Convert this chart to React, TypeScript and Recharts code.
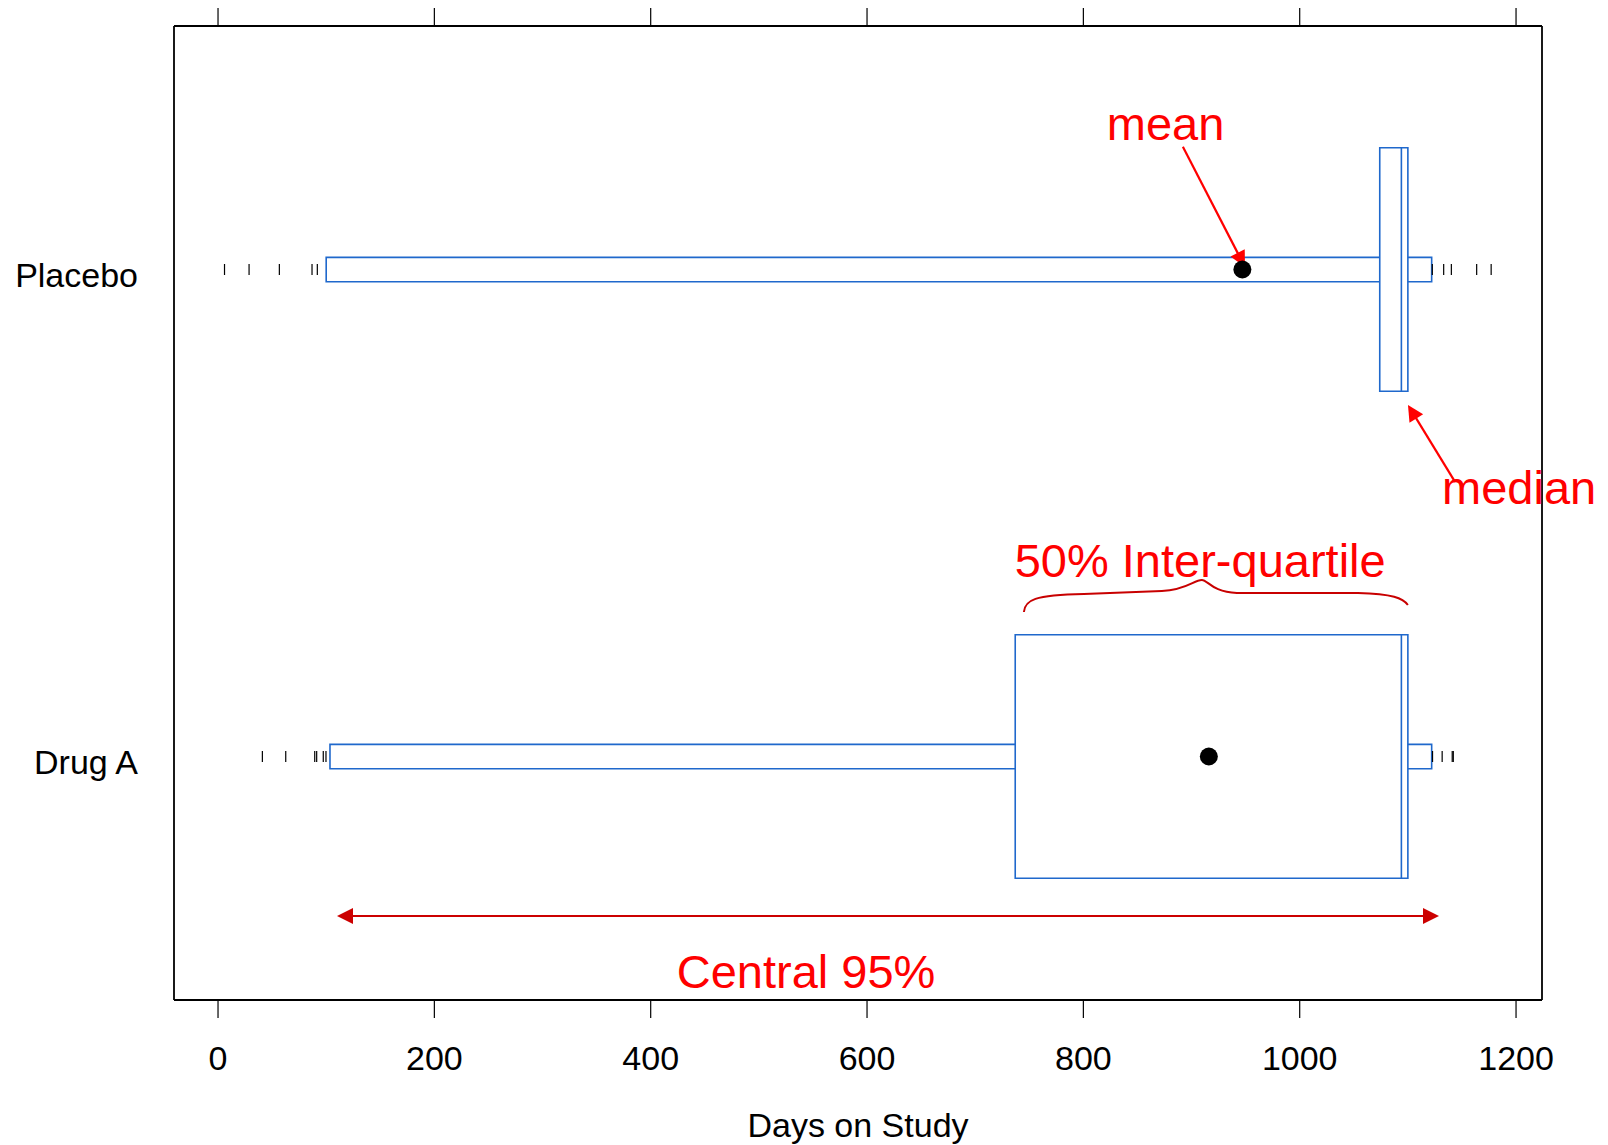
import {
  ComposedChart,
  XAxis,
  YAxis,
  Scatter,
  ReferenceArea,
  ReferenceLine,
  ReferenceDot,
} from 'recharts'

const groups = ['Drug A', 'Placebo']
const groupPos = [1, 2]
const lower95 = [103.5, 100]
const upper95 = [1122, 1122]
const q1 = [737, 1074]
const medians = [1094, 1094]
const q3 = [1100, 1100]
const means = [916, 947]
const drugTails = [41, 62.6, 89.4, 91.2, 97.3, 99.8, 1122.8, 1131.7, 1141, 1142]
const placeboTails = [6, 28.7, 56.7, 86.9, 91.8, 1122.6, 1133.1, 1140.2, 1163.6, 1177]

const xTicks = [0, 200, 400, 600, 800, 1000, 1200]
const xDomain = [-40.7, 1224]
const yDomain = [0.5, 2.5]

const noteText = ['mean', 'median', '50% Inter-quartile', 'Central 95%']
const noteX = [876, 1131.6, 908, 543.6]
const noteY = [2.266, 1.518, 1.369, 0.525]
const noteAnchor = ['middle', 'start', 'middle', 'middle']

// [tailX, tailY, tipX, tipY]
const meanArrow = [892, 2.252, 949.4, 2.005]
const medianArrow = [1143.6, 1.564, 1100.1, 1.722]
const centralArrow = [110, 0.6725, 1128.8, 0.6725]
// [left, right, y]
const braceSpan = [745, 1100, 1.3337]

const BLUE = '#1f68cc'
const BOX_HALF = 0.25
const WHISKER_HALF = 0.025
const TOP_TICK = 0.037 // top tick length, in y units (~18px)

const meanPts = groupPos.map((y, i) => ({ x: means[i], y }))
const tailPts = [
  ...drugTails.map((x) => ({ x, y: groupPos[0] })),
  ...placeboTails.map((x) => ({ x, y: groupPos[1] })),
]

function head(x: number, y: number, fx: number, fy: number, len: number, half: number, color: string) {
  const a = Math.atan2(y - fy, x - fx)
  const bx = x - len * Math.cos(a)
  const by = y - len * Math.sin(a)
  const px = -Math.sin(a) * half
  const py = Math.cos(a) * half
  return <polygon points={`${x},${y} ${bx + px},${by + py} ${bx - px},${by - py}`} fill={color} />
}

const arrowShape = (color: string, both: boolean) => (p: any) => {
  const { x1, y1, x2, y2 } = p
  const len = 16
  const a = Math.atan2(y2 - y1, x2 - x1)
  const ex = x2 - (len - 2) * Math.cos(a)
  const ey = y2 - (len - 2) * Math.sin(a)
  const sx = both ? x1 + (len - 2) * Math.cos(a) : x1
  const sy = both ? y1 + (len - 2) * Math.sin(a) : y1
  return (
    <g>
      <line x1={sx} y1={sy} x2={ex} y2={ey} stroke={color} strokeWidth={2.2} />
      {head(x2, y2, x1, y1, len, 8, color)}
      {both && head(x1, y1, x2, y2, len, 8, color)}
    </g>
  )
}

const braceShape = (p: any) => {
  const { x1, x2, y1 } = p
  const y = y1
  const xp = x1 + 0.4635 * (x2 - x1)
  const d =
    `M${x1},${y + 18} C${x1 + 1},${y + 6} ${x1 + 10},${y + 1} ${x1 + 60},${y} ` +
    `L${xp - 40},${y - 3} C${xp - 15},${y - 4} ${xp - 8},${y - 14} ${xp},${y - 14} ` +
    `C${xp + 6},${y - 14} ${xp + 10},${y - 2} ${xp + 35},${y - 1} ` +
    `L${x2 - 50},${y - 1} C${x2 - 15},${y} ${x2 - 5},${y + 4} ${x2},${y + 11}`
  return <path d={d} fill="none" stroke="#c80000" strokeWidth={2} />
}

export default function App() {
  return (
    <ComposedChart
      width={1600}
      height={1137}
      margin={{ top: 0, right: 60, bottom: 7, left: 0 }}
      style={{ fontFamily: '"Liberation Sans", Arial, sans-serif' }}
    >
      <XAxis
        xAxisId="b"
        dataKey="x"
        type="number"
        domain={xDomain}
        ticks={xTicks}
        allowDataOverflow
        height={138}
        tickSize={18}
        tickMargin={28}
        tick={{ fontSize: 34, fill: '#000' }}
        tickLine={{ stroke: '#000', strokeWidth: 1.2 }}
        axisLine={{ stroke: '#000', strokeWidth: 1.8 }}
        label={{ value: 'Days on Study', position: 'insideBottom', offset: 1, fontSize: 34, fill: '#000' }}
      />
      <XAxis
        xAxisId="t"
        orientation="top"
        type="number"
        domain={xDomain}
        allowDataOverflow
        height={18}
        tick={false}
        tickLine={false}
        axisLine={{ stroke: '#000', strokeWidth: 1.8 }}
      />
      <YAxis
        yAxisId="l"
        dataKey="y"
        type="number"
        domain={yDomain}
        ticks={groupPos}
        allowDataOverflow
        width={166}
        tickSize={0}
        tickMargin={36}
        tickLine={false}
        axisLine={{ stroke: '#000', strokeWidth: 1.8 }}
        tick={(p: any) => (
          <text x={p.x} y={p.y + 17} textAnchor="end" fontSize={34} fill="#000">
            {groups[groupPos.indexOf(p.payload.value)]}
          </text>
        )}
      />
      <YAxis
        yAxisId="r"
        orientation="right"
        type="number"
        domain={yDomain}
        allowDataOverflow
        width={6}
        tick={false}
        tickLine={false}
        axisLine={{ stroke: '#000', strokeWidth: 1.8 }}
      />

      {/* tick marks along the top edge */}
      {xTicks.map((v) => (
        <ReferenceLine
          key={`t${v}`}
          xAxisId="b"
          yAxisId="l"
          ifOverflow="visible"
          segment={[
            { x: v, y: yDomain[1] },
            { x: v, y: yDomain[1] + TOP_TICK },
          ]}
          stroke="#000"
          strokeWidth={1.2}
        />
      ))}

      {/* central 95% whisker boxes */}
      {groupPos.map((g, i) => (
        <ReferenceArea
          key={`w${i}`}
          xAxisId="b"
          yAxisId="l"
          x1={lower95[i]}
          x2={upper95[i]}
          y1={g - WHISKER_HALF}
          y2={g + WHISKER_HALF}
          fill="#fff"
          fillOpacity={1}
          stroke={BLUE}
          strokeWidth={1.6}
        />
      ))}
      {/* inter-quartile boxes */}
      {groupPos.map((g, i) => (
        <ReferenceArea
          key={`q${i}`}
          xAxisId="b"
          yAxisId="l"
          x1={q1[i]}
          x2={q3[i]}
          y1={g - BOX_HALF}
          y2={g + BOX_HALF}
          fill="#fff"
          fillOpacity={1}
          stroke={BLUE}
          strokeWidth={1.6}
        />
      ))}
      {groupPos.map((g, i) => (
        <ReferenceLine
          key={`m${i}`}
          xAxisId="b"
          yAxisId="l"
          segment={[
            { x: medians[i], y: g - BOX_HALF },
            { x: medians[i], y: g + BOX_HALF },
          ]}
          stroke={BLUE}
          strokeWidth={1.6}
        />
      ))}

      <Scatter
        xAxisId="b"
        yAxisId="l"
        data={tailPts}
        isAnimationActive={false}
        shape={(p: any) => (
          <line x1={p.cx} x2={p.cx} y1={p.cy - 5.5} y2={p.cy + 5.5} stroke="#000" strokeWidth={1.2} />
        )}
      />
      <Scatter
        xAxisId="b"
        yAxisId="l"
        data={meanPts}
        isAnimationActive={false}
        shape={(p: any) => <circle cx={p.cx} cy={p.cy} r={9} fill="#000" />}
      />

      {/* annotations */}
      <ReferenceLine
        xAxisId="b"
        yAxisId="l"
        ifOverflow="visible"
        segment={[
          { x: meanArrow[0], y: meanArrow[1] },
          { x: meanArrow[2], y: meanArrow[3] },
        ]}
        shape={arrowShape('#ff0000', false)}
      />
      <ReferenceLine
        xAxisId="b"
        yAxisId="l"
        ifOverflow="visible"
        segment={[
          { x: medianArrow[0], y: medianArrow[1] },
          { x: medianArrow[2], y: medianArrow[3] },
        ]}
        shape={arrowShape('#ff0000', false)}
      />
      <ReferenceLine
        xAxisId="b"
        yAxisId="l"
        ifOverflow="visible"
        segment={[
          { x: centralArrow[0], y: centralArrow[1] },
          { x: centralArrow[2], y: centralArrow[3] },
        ]}
        shape={arrowShape('#cc0000', true)}
      />
      <ReferenceLine
        xAxisId="b"
        yAxisId="l"
        ifOverflow="visible"
        segment={[
          { x: braceSpan[0], y: braceSpan[2] },
          { x: braceSpan[1], y: braceSpan[2] },
        ]}
        shape={braceShape}
      />
      {noteText.map((t, i) => (
        <ReferenceDot
          key={`n${i}`}
          xAxisId="b"
          yAxisId="l"
          ifOverflow="visible"
          x={noteX[i]}
          y={noteY[i]}
          shape={(p: any) => (
            <text x={p.cx} y={p.cy} textAnchor={noteAnchor[i] as any} fontSize={47} fill="#ff0000">
              {t}
            </text>
          )}
        />
      ))}
    </ComposedChart>
  )
}
